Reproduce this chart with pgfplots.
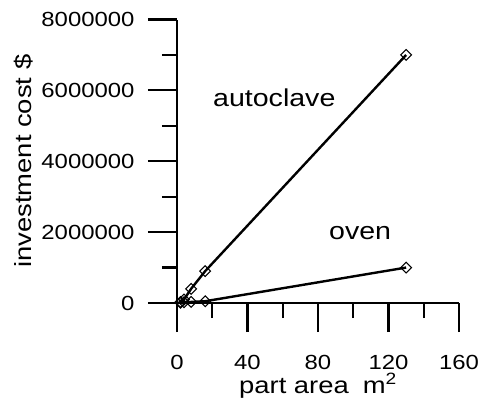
\documentclass[border=0pt]{standalone}
\usepackage{fontspec}
\setmainfont{Liberation Sans}[FakeStretch=1.17]
\usepackage{pgfplots}
\pgfplotsset{compat=1.18}

\begin{document}
\begin{tikzpicture}
\useasboundingbox (0,0) rectangle (480bp,405bp);
\begin{axis}[
    at={(177bp,102bp)}, anchor=south west,
    scale only axis,
    width=282bp, height=283.5bp,
    xmin=0, xmax=160, ymin=0, ymax=8000000,
    axis x line*=bottom, axis y line*=left,
    axis line style={-, line width=2.2bp, black},
    tick style={black, line width=2.2bp},
    tick align=outside,
    major tick length=29bp, minor tick length=15bp,
    xtick={0,40,80,120,160}, minor xtick={20,60,100,140},
    ytick={0,2000000,4000000,6000000,8000000},
    minor ytick={1000000,3000000,5000000,7000000},
    scaled y ticks=false,
    /pgf/number format/assume math mode=true,
    yticklabel style={/pgf/number format/fixed, /pgf/number format/1000 sep={}, xshift=-10bp},
    xticklabel style={yshift=-20bp},
    ticklabel style={font=\fontsize{20.5}{24}\selectfont},
    xlabel={part area\hspace{14bp}m\textsuperscript{2}},
    ylabel={investment cost \$},
    label style={font=\fontsize{23.5}{27}\selectfont},
    xlabel style={at={(axis description cs:0.5,0)}, anchor=base, yshift=-90bp},
    ylabel style={at={(axis description cs:-0.516,0.5)}, anchor=base},
    clip=false,
]
% autoclave
\addplot[black, line width=2.4bp, mark=square, mark size=3.8bp,
    mark options={rotate=45, line width=1.1bp, fill=white}] coordinates {
    (2, 30000)
    (4, 100000)
    (8, 400000)
    (16, 900000)
    (130, 7000000)
};
% oven
\addplot[black, line width=2.4bp, mark=square, mark size=3.8bp,
    mark options={rotate=45, line width=1.1bp, fill=white}] coordinates {
    (2, 10000)
    (4, 20000)
    (8, 30000)
    (16, 50000)
    (130, 1000000)
};
\node[anchor=base west, inner sep=0pt, font=\fontsize{24.5}{28}\selectfont] at (axis cs:20.4,5550000) {autoclave};
\node[anchor=base west, inner sep=0pt, font=\fontsize{24.5}{28}\selectfont] at (axis cs:86.2,1780000) {oven};
\end{axis}
\end{tikzpicture}
\end{document}
